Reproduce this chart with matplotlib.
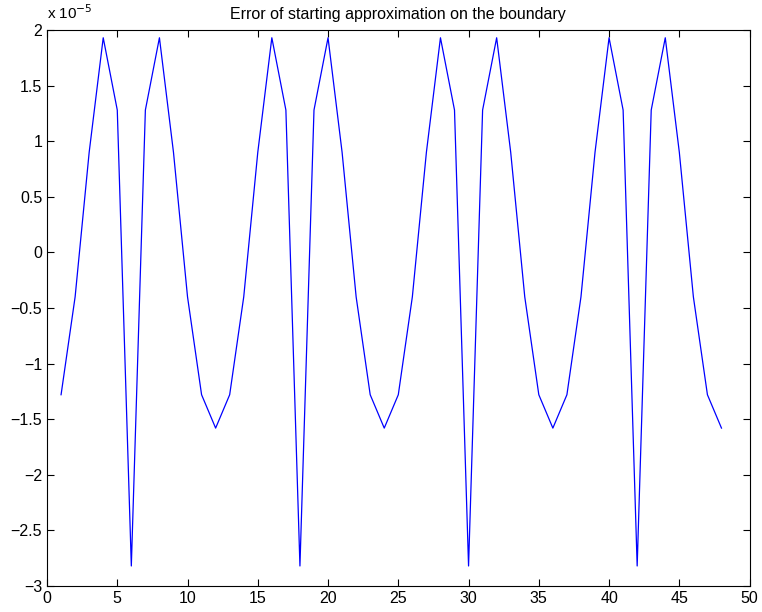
import matplotlib
matplotlib.use('Agg')
import numpy as np
import matplotlib.pyplot as plt

plt.rcParams['font.family'] = ['Liberation Sans', 'DejaVu Sans']

# one period of the boundary error, in units of 1e-5
period = [-1.28, -0.40, 0.90, 1.93, 1.28, -2.82, 1.28, 1.93, 0.90, -0.40, -1.28, -1.58]
n = np.arange(1, 49)
err = np.array(period * 4)

fig = plt.figure(figsize=(7.62, 6.12), dpi=100)
ax = fig.add_axes([0.0617, 0.0425, 0.922, 0.9085])
ax.plot(n, err, color='#0000ff', lw=0.9)

ax.set_xlim(0, 50)
ax.set_ylim(-3, 2)
ax.set_xticks(np.arange(0, 51, 5))
ax.set_yticks(np.arange(-3, 2.01, 0.5))
ax.set_yticklabels(['\u22123', '\u22122.5', '\u22122', '\u22121.5', '\u22121', '\u22120.5',
                    '0', '0.5', '1', '1.5', '2'])
ax.tick_params(direction='in', top=True, right=True, labelsize=11.5, length=5)
for s in ax.spines.values():
    s.set_linewidth(0.8)

ax.text(0, 1.014, 'x 10$^{-5}$', transform=ax.transAxes, fontsize=11, va='bottom')
ax.set_title('Error of starting approximation on the boundary', fontsize=11.5, pad=8)

plt.savefig('out.png', dpi=100)
